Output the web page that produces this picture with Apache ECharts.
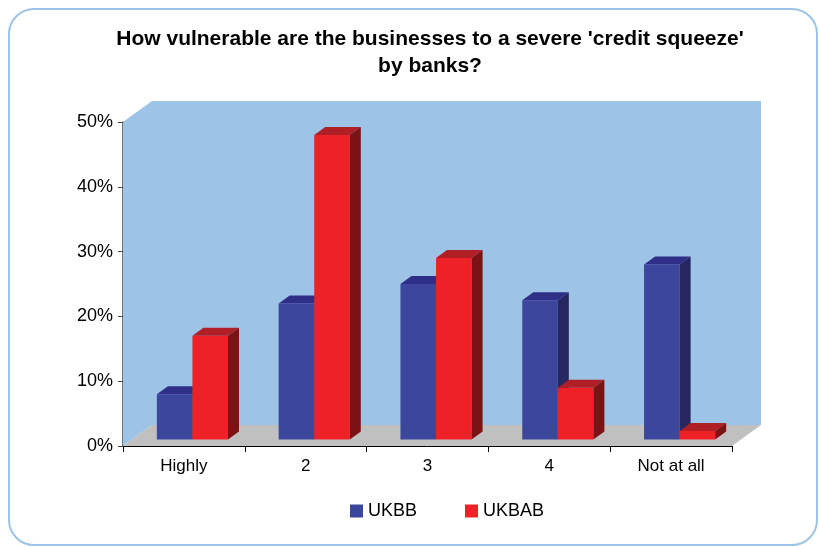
<!DOCTYPE html>
<html><head><meta charset="utf-8">
<script src="https://cdn.jsdelivr.net/npm/echarts@6/dist/echarts.min.js"></script>
<style>html,body{margin:0;padding:0;background:#fff}#c{width:820px;height:547px}</style>
</head><body><div id="c"></div>
<script>
// ---- data ----
const categories = ['Highly', '2', '3', '4', 'Not at all'];
const seriesNames = ['UKBB', 'UKBAB'];
const ukbb = [7, 21, 24, 21.5, 27];
const ukbab = [16, 47, 28, 8, 1.3];
const yMin = 0, yMax = 50, yStep = 10;

// ---- styles ----
const palettes = [
  { front: '#3c469c', top: '#2f2f88', side: '#262660' },
  { front: '#ee2226', top: '#b11f26', side: '#7b1214' }
];
const WALL_DX = 29, WALL_DY = -21;   // depth of the 3D box
const BAR_SX = 0, BAR_SY = -6.5;     // bar position inside the depth
const BAR_DX = 11, BAR_DY = -8;      // bar depth

function barRenderer(si) {
  const pal = palettes[si];
  return function (params, api) {
    const ci = api.value(0), v = api.value(1);
    const band = api.size([1, 0])[0];
    const base = api.coord([ci, 0]);
    const topP = api.coord([ci, v]);
    const w = band * 0.292;
    const x0 = base[0] - band * 0.222 + si * w + BAR_SX;
    const x1 = x0 + w;
    const yb = base[1] + BAR_SY;
    const yt = topP[1] + BAR_SY;
    return {
      type: 'group',
      children: [
        { type: 'rect', shape: { x: x0, y: yt, width: w, height: yb - yt }, style: { fill: pal.front } },
        { type: 'polygon', shape: { points: [[x0, yt], [x0 + BAR_DX, yt + BAR_DY], [x1 + BAR_DX, yt + BAR_DY], [x1, yt]] }, style: { fill: pal.top } },
        { type: 'polygon', shape: { points: [[x1, yt], [x1 + BAR_DX, yt + BAR_DY], [x1 + BAR_DX, yb + BAR_DY], [x1, yb]] }, style: { fill: pal.side } }
      ]
    };
  };
}

function wallRenderer(params, api) {
  const cs = params.coordSys;
  const L = cs.x, T = cs.y, R = cs.x + cs.width, B = cs.y + cs.height;
  return {
    type: 'group',
    children: [
      { type: 'polygon', shape: { points: [[L, B], [L, T], [L + WALL_DX, T + WALL_DY], [R + WALL_DX, T + WALL_DY], [R + WALL_DX, B + WALL_DY], [L + WALL_DX, B + WALL_DY]] }, style: { fill: '#9dc3e6' } },
      { type: 'polygon', shape: { points: [[L, B], [L + WALL_DX, B + WALL_DY], [R + WALL_DX, B + WALL_DY], [R, B]] }, style: { fill: '#c0c0c0' } }
    ]
  };
}

const seriesData = [ukbb, ukbab];
const chart = echarts.init(document.getElementById('c'));
const FONT = "'Liberation Sans', Arial, sans-serif";
chart.setOption({
  animation: false,
  backgroundColor: '#fff',
  title: {
    text: "How vulnerable are the businesses to a severe 'credit squeeze'\nby banks?",
    left: 430, textAlign: 'center', top: 26, padding: 0,
    textStyle: { fontFamily: FONT, fontSize: 21, fontWeight: 'bold', color: '#000', lineHeight: 27 }
  },
  legend: {
    data: seriesNames, left: 345, top: 497, icon: 'rect', itemWidth: 13, itemHeight: 13, itemGap: 48,
    textStyle: { fontFamily: FONT, fontSize: 18, color: '#000' }
  },
  grid: { left: 123, right: 88, top: 122, bottom: 101, containLabel: false },
  xAxis: {
    type: 'category', data: categories,
    axisLine: { lineStyle: { color: '#000', width: 1 } },
    axisTick: { show: true, length: 6, lineStyle: { color: '#000' } },
    axisLabel: { fontFamily: FONT, fontSize: 17, color: '#000', margin: 12 },
    splitLine: { show: false }
  },
  yAxis: {
    type: 'value', min: yMin, max: yMax, interval: yStep,
    axisLine: { show: true, lineStyle: { color: '#444', width: 1.5 } },
    axisTick: { show: true, length: 5, lineStyle: { color: '#444' } },
    axisLabel: { fontFamily: FONT, fontSize: 18, color: '#000', margin: 10, formatter: '{value}%' },
    splitLine: { show: false }
  },
  series: [
    { type: 'custom', name: 'wall', renderItem: wallRenderer, data: [[0, 0]], clip: false, silent: true, z: 1 },
    ...seriesNames.map((n, si) => ({
      type: 'custom', name: n, renderItem: barRenderer(si), clip: false, z: 2 + si,
      itemStyle: { color: palettes[si].front },
      encode: { x: 0, y: 1 },
      data: seriesData[si].map((v, i) => [i, v])
    }))
  ],
  graphic: [
    { type: 'rect', z: 100, shape: { x: 9, y: 9, width: 808, height: 536, r: 25 }, style: { fill: null, stroke: '#9dc3e6', lineWidth: 2 } }
  ]
});
</script>
</body></html>
